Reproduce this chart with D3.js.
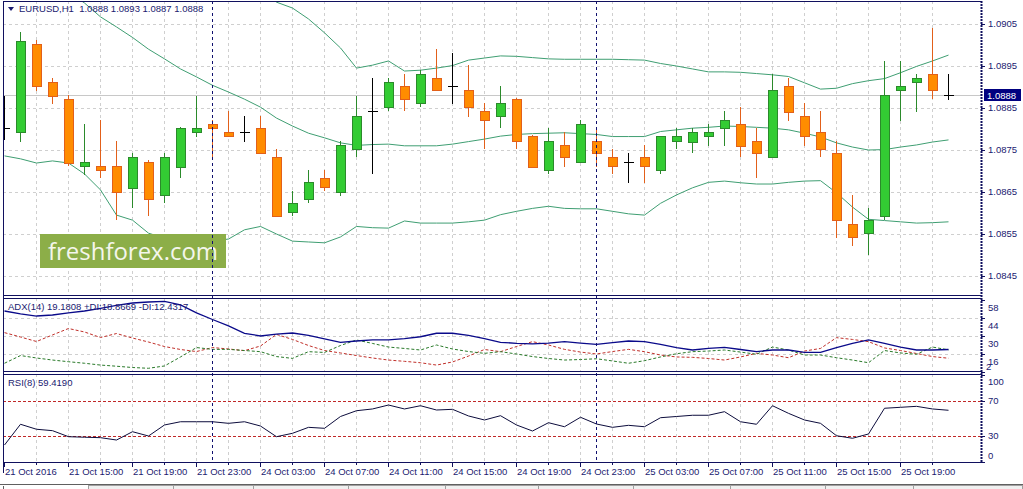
<!DOCTYPE html>
<html>
<head>
<meta charset="utf-8">
<script src="https://d3js.org/d3.v7.min.js"></script>
<style>
  body { margin: 0; background: #ffffff; }
  svg text { font-family: "Liberation Sans", Arial, sans-serif; font-size: 9.5px; fill: #1a1a70; }
  .grid line { stroke: #cfcfcf; stroke-dasharray: 3 3; shape-rendering: crispEdges; }
  .border { stroke: #10105e; stroke-width: 1; shape-rendering: crispEdges; fill: none; }
</style>
</head>
<body>
<div id="chart"></div>
<script>
// ---- data ----
const symbolTitle = "EURUSD,H1\u00a0\u00a01.0888 1.0893 1.0887 1.0888";
const adxTitle = "ADX(14) 19.1808 +DI:18.8669 -DI:12.4317";
const rsiTitle = "RSI(8) 59.4190";
const lastPrice = 1.0888;

const open = [1.08802,1.08793,1.09002,1.08912,1.08871,1.08712,1.08712,1.08712,1.08660,1.08721,
  1.08643,1.08710,1.08793,1.08812,1.08793,1.08793,1.08802,1.08733,1.08602,1.08633,
  1.08683,1.08650,1.08752,1.08843,1.08852,1.08902,1.08862,1.08921,1.08902,1.08893,
  1.08843,1.08831,1.08871,1.08783,1.08702,1.08762,1.08721,1.08771,1.08733,1.08721,
  1.08733,1.08702,1.08771,1.08769,1.08783,1.08802,1.08812,1.08771,1.08733,1.08902,
  1.08831,1.08793,1.08743,1.08574,1.08552,1.08593,1.08893,1.08912,1.08931,1.08880];
const high = [1.08879,1.09031,1.09012,1.08921,1.08881,1.08812,1.08821,1.08771,1.08743,1.08726,
  1.08743,1.08805,1.08879,1.08821,1.08843,1.08831,1.08831,1.08752,1.08652,1.08702,
  1.08702,1.08771,1.08879,1.08921,1.08921,1.08931,1.08940,1.08990,1.08981,1.08952,
  1.08862,1.08902,1.08873,1.08786,1.08802,1.08793,1.08821,1.08802,1.08752,1.08743,
  1.08762,1.08783,1.08802,1.08802,1.08812,1.08843,1.08852,1.08802,1.08931,1.08921,
  1.08862,1.08843,1.08771,1.08643,1.08612,1.08962,1.08962,1.08931,1.09040,1.08930];
const low = [1.08774,1.08769,1.08890,1.08860,1.08712,1.08690,1.08683,1.08583,1.08612,1.08593,
  1.08624,1.08683,1.08781,1.08733,1.08781,1.08769,1.08740,1.08590,1.08593,1.08624,
  1.08652,1.08640,1.08733,1.08693,1.08843,1.08843,1.08852,1.08890,1.08860,1.08829,
  1.08752,1.08802,1.08752,1.08708,1.08693,1.08710,1.08719,1.08710,1.08693,1.08671,
  1.08671,1.08693,1.08752,1.08743,1.08760,1.08760,1.08733,1.08683,1.08731,1.08819,
  1.08760,1.08733,1.08540,1.08521,1.08500,1.08583,1.08819,1.08840,1.08871,1.08870];
const close = [1.08802,1.09010,1.08902,1.08879,1.08719,1.08721,1.08702,1.08650,1.08733,1.08633,
  1.08733,1.08802,1.08802,1.08802,1.08783,1.08793,1.08743,1.08593,1.08624,1.08674,
  1.08662,1.08762,1.08831,1.08843,1.08912,1.08871,1.08931,1.08893,1.08902,1.08852,
  1.08821,1.08862,1.08771,1.08710,1.08771,1.08733,1.08812,1.08743,1.08712,1.08721,
  1.08712,1.08783,1.08783,1.08793,1.08793,1.08821,1.08760,1.08743,1.08893,1.08840,
  1.08783,1.08752,1.08583,1.08543,1.08583,1.08881,1.08902,1.08921,1.08893,1.08880];

const bbUpper = [1.09717,1.09676,1.09638,1.09581,1.09533,1.09507,1.09481,1.09490,1.09452,1.09429,
  1.09393,1.09352,1.09317,1.09274,1.09238,1.09183,1.09136,1.09102,1.09088,1.09062,
  1.09029,1.08993,1.08945,1.08952,1.08962,1.08938,1.08940,1.08945,1.08951,1.08964,
  1.08969,1.08974,1.08973,1.08970,1.08967,1.08966,1.08966,1.08966,1.08966,1.08965,
  1.08964,1.08956,1.08950,1.08943,1.08936,1.08936,1.08935,1.08932,1.08929,1.08925,
  1.08910,1.08895,1.08897,1.08908,1.08915,1.08920,1.08934,1.08949,1.08962,1.08976];
const bbMiddle = [1.09226,1.09202,1.09179,1.09152,1.09126,1.09100,1.09067,1.09043,1.09018,1.08990,
  1.08967,1.08943,1.08924,1.08904,1.08888,1.08871,1.08852,1.08826,1.08807,1.08790,
  1.08779,1.08767,1.08761,1.08763,1.08764,1.08760,1.08760,1.08760,1.08764,1.08770,
  1.08776,1.08783,1.08787,1.08789,1.08790,1.08791,1.08789,1.08787,1.08782,1.08782,
  1.08782,1.08794,1.08798,1.08802,1.08804,1.08807,1.08806,1.08804,1.08802,1.08798,
  1.08790,1.08781,1.08767,1.08757,1.08750,1.08751,1.08757,1.08762,1.08769,1.08774];
const bbLower = [1.08736,1.08729,1.08719,1.08724,1.08719,1.08693,1.08655,1.08595,1.08583,1.08552,
  1.08540,1.08533,1.08531,1.08533,1.08538,1.08560,1.08568,1.08550,1.08533,1.08531,
  1.08529,1.08543,1.08568,1.08565,1.08564,1.08581,1.08576,1.08576,1.08576,1.08579,
  1.08583,1.08596,1.08604,1.08611,1.08616,1.08611,1.08610,1.08610,1.08604,1.08598,
  1.08595,1.08623,1.08643,1.08660,1.08673,1.08676,1.08672,1.08669,1.08669,1.08673,
  1.08676,1.08677,1.08648,1.08614,1.08585,1.08582,1.08579,1.08576,1.08577,1.08579];

const adx = [49.1,46.8,45.2,46.0,47.6,49.1,51.2,53.4,55.3,56.1,
  56.5,53.8,47.6,42.5,37.5,31.8,29.7,31.2,32.0,30.1,
  27.4,24.8,25.8,26.6,26.6,27.7,29.1,31.8,31.8,30.1,
  27.7,24.8,24.0,23.5,24.2,25.3,24.2,23.2,24.6,25.8,
  25.3,23.1,20.7,18.8,20.0,20.9,19.2,17.6,18.8,18.8,
  17.0,17.0,20.7,23.9,26.6,23.9,21.1,18.8,18.8,19.2];
const plusDI = [8.5,14.5,12.6,11.0,9.7,8.5,7.1,6.2,5.2,4.6,
  6.4,13.4,20.7,19.3,19.3,18.4,17.5,13.7,12.3,17.5,
  16.9,22.3,26.6,23.9,21.1,20.0,18.8,22.7,19.6,17.6,
  16.2,17.5,15.7,13.7,12.2,11.0,11.4,12.0,10.3,8.5,
  10.5,13.4,15.9,17.5,18.0,18.8,17.2,15.5,21.1,18.8,
  14.9,14.9,12.8,11.0,8.9,18.4,16.5,15.5,21.1,18.9];
const minusDI = [32.3,28.9,25.4,30.5,35.5,32.8,28.5,31.6,28.1,25.0,
  21.5,19.2,17.6,20.7,19.6,18.3,21.9,30.9,27.0,22.3,
  18.4,16.5,14.5,12.6,11.0,10.0,8.9,7.1,9.5,14.1,
  19.2,17.5,21.5,25.3,22.7,19.3,17.2,15.7,17.6,19.3,
  17.5,14.9,13.4,13.1,12.2,11.0,13.4,16.2,14.9,12.8,
  18.0,20.0,28.4,27.0,25.3,20.4,18.4,16.1,13.7,12.4];
const rsi = [19.7,43.4,37.7,36.1,29.2,28.6,28.1,25.4,34.9,30.0,
  42.6,46.3,46.3,46.3,44.5,46.3,41.4,29.2,33.1,39.9,
  38.8,52.3,58.9,60.9,65.4,60.9,64.6,59.7,60.5,52.9,
  48.3,53.2,42.6,35.7,45.2,40.6,51.4,43.7,39.9,42.2,
  40.6,50.9,52.3,53.7,53.7,57.8,46.3,43.4,64.6,55.9,
  48.3,44.5,30.3,27.4,32.3,61.7,62.8,63.9,60.9,59.4];

const priceTicks = [1.0905, 1.0895, 1.0885, 1.0875, 1.0865, 1.0855, 1.0845];
const adxTicks = [58, 44, 30, 16, 2];
const rsiTicks = [100, 70, 30, 0];
const rsiLevels = [70, 30];
const timeTickBars = [0, 4, 8, 12, 16, 20, 24, 28, 32, 36, 40, 44, 48, 52, 56];
const timeTickLabels = ["21 Oct 2016", "21 Oct 15:00", "21 Oct 19:00", "21 Oct 23:00", "24 Oct 03:00",
  "24 Oct 07:00", "24 Oct 11:00", "24 Oct 15:00", "24 Oct 19:00", "24 Oct 23:00",
  "25 Oct 03:00", "25 Oct 07:00", "25 Oct 11:00", "25 Oct 15:00", "25 Oct 19:00"];
const daySeparatorBars = [13, 37];
const tabEdges = [88, 173, 253, 348, 445, 538, 633, 730, 825, 913];

// ---- layout ----
const W = 1023, H = 489;
const left = 3, right = 981;
const main = { top: 1, bottom: 295.5 };
const adxP = { top: 298, bottom: 371.5 };
const rsiP = { top: 374, bottom: 462 };

const svg = d3.select("#chart").append("svg").attr("width", W).attr("height", H);

const x = d3.scaleLinear().domain([0, 59]).range([4.5, 948.5]);
const y = d3.scaleLinear().domain([1.0845, 1.0905]).range([276, 24]);
const yAdx = d3.scaleLinear().domain([2.1, 59.2]).range([371.5, 298]);
const yRsi = d3.scaleLinear().domain([0, 100]).range([462.25, 374.75]);

// clip paths per panel
const defs = svg.append("defs");
[["clipMain", main], ["clipAdx", adxP], ["clipRsi", rsiP]].forEach(([id, p]) => {
  defs.append("clipPath").attr("id", id).append("rect")
    .attr("x", left + 1).attr("y", p.top + 1)
    .attr("width", right - left - 1).attr("height", p.bottom - p.top - 1);
});

// ---- grids ----
const gridBars = d3.range(2, 60, 2);
[main, adxP, rsiP].forEach(p => {
  svg.append("g").attr("class", "grid")
    .selectAll("line").data(gridBars).join("line")
    .attr("x1", d => Math.floor(x(d)) + 0.5).attr("x2", d => Math.floor(x(d)) + 0.5)
    .attr("y1", p.top).attr("y2", p.bottom);
});
svg.append("g").attr("class", "grid")
  .selectAll("line").data(priceTicks).join("line")
  .attr("x1", left).attr("x2", right)
  .attr("y1", d => Math.round(y(d)) + 0.5).attr("y2", d => Math.round(y(d)) + 0.5);
svg.append("g").attr("class", "grid")
  .selectAll("line").data(adxTicks.slice(1, 4)).join("line")
  .attr("x1", left).attr("x2", right)
  .attr("y1", d => Math.round(yAdx(d)) + 0.5).attr("y2", d => Math.round(yAdx(d)) + 0.5);

// current price line
svg.append("line")
  .attr("x1", left).attr("x2", right)
  .attr("y1", Math.round(y(lastPrice)) + 0.5).attr("y2", Math.round(y(lastPrice)) + 0.5)
  .attr("stroke", "#c8c8c8").attr("shape-rendering", "crispEdges");

// ---- main panel ----
const gMain = svg.append("g").attr("clip-path", "url(#clipMain)");

const bbLine = arr => d3.line().x((d, i) => x(i)).y(d => y(d))(arr);
[bbUpper, bbMiddle, bbLower].forEach(arr => {
  gMain.append("path").attr("d", bbLine(arr))
    .attr("fill", "none").attr("stroke", "#3f9e72").attr("stroke-width", 1);
});

const candles = gMain.append("g").attr("shape-rendering", "crispEdges");
open.forEach((o, i) => {
  const c = close[i];
  const cx = Math.floor(x(i)) + 0.5;
  const bull = c > o, doji = c === o;
  const edge = doji ? "#000000" : bull ? "#2b8a2b" : "#e2601a";
  const fill = bull ? "#33cc33" : "#ff8c00";
  candles.append("line")
    .attr("x1", cx).attr("x2", cx)
    .attr("y1", y(high[i])).attr("y2", y(low[i]))
    .attr("stroke", edge);
  if (doji) {
    candles.append("line")
      .attr("x1", cx - 5).attr("x2", cx + 5)
      .attr("y1", Math.round(y(o)) + 0.5).attr("y2", Math.round(y(o)) + 0.5)
      .attr("stroke", edge);
  } else {
    const top = Math.round(y(Math.max(o, c))) + 0.5;
    const bot = Math.round(y(Math.min(o, c))) + 0.5;
    candles.append("rect")
      .attr("x", cx - 4.5).attr("width", 9)
      .attr("y", top).attr("height", Math.max(1, bot - top))
      .attr("fill", fill).attr("stroke", edge);
  }
});

// watermark
svg.append("rect").attr("x", 40).attr("y", 234).attr("width", 186).attr("height", 34)
  .attr("fill", "#8cae48");
svg.append("text").attr("x", 133).attr("y", 260).attr("text-anchor", "middle")
  .attr("textLength", 170).attr("lengthAdjust", "spacingAndGlyphs")
  .style("font-family", "'Open Sans', sans-serif").style("font-size", "24px")
  .style("fill", "#f4f6ec").text("freshforex.com");

// ---- ADX panel ----
const gAdx = svg.append("g").attr("clip-path", "url(#clipAdx)");
const adxLine = d3.line().x((d, i) => x(i)).y(d => yAdx(d));
gAdx.append("path").attr("d", adxLine(minusDI)).attr("fill", "none")
  .attr("stroke", "#c0302a").attr("stroke-width", 1).attr("stroke-dasharray", "3 2");
gAdx.append("path").attr("d", adxLine(plusDI)).attr("fill", "none")
  .attr("stroke", "#2a7a2a").attr("stroke-width", 1).attr("stroke-dasharray", "3 2");
gAdx.append("path").attr("d", adxLine(adx)).attr("fill", "none")
  .attr("stroke", "#0a0a8a").attr("stroke-width", 1.3);

// ---- RSI panel ----
const gRsi = svg.append("g").attr("clip-path", "url(#clipRsi)");
gRsi.selectAll("line.level").data(rsiLevels).join("line")
  .attr("x1", left).attr("x2", right)
  .attr("y1", d => Math.round(yRsi(d)) + 0.5).attr("y2", d => Math.round(yRsi(d)) + 0.5)
  .attr("stroke", "#c02828").attr("stroke-dasharray", "3 2").attr("shape-rendering", "crispEdges");
gRsi.append("path").attr("d", d3.line().x((d, i) => x(i)).y(d => yRsi(d))(rsi))
  .attr("fill", "none").attr("stroke", "#0c0c3c").attr("stroke-width", 1);

// day separators
svg.append("g").selectAll("line").data(daySeparatorBars).join("line")
  .attr("x1", d => Math.floor(x(d)) + 0.5).attr("x2", d => Math.floor(x(d)) + 0.5)
  .attr("y1", main.top).attr("y2", rsiP.bottom)
  .attr("stroke", "#10106e").attr("stroke-dasharray", "3 3").attr("shape-rendering", "crispEdges");

// ---- borders ----
[main, adxP, rsiP].forEach(p => {
  svg.append("line").attr("class", "border").attr("x1", left).attr("x2", right)
    .attr("y1", p.top + 0.5).attr("y2", p.top + 0.5);
  svg.append("line").attr("class", "border").attr("x1", left).attr("x2", right)
    .attr("y1", Math.floor(p.bottom) + 0.5).attr("y2", Math.floor(p.bottom) + 0.5);
});
svg.append("line").attr("class", "border").attr("x1", left + 0.5).attr("x2", left + 0.5)
  .attr("y1", main.top).attr("y2", 473);
svg.append("line").attr("x1", right + 0.5).attr("x2", right + 0.5)
  .attr("y1", main.top).attr("y2", rsiP.bottom)
  .attr("stroke", "#10105e").attr("stroke-width", 2).attr("stroke-dasharray", "2 1");

// ---- right axes ----
const axisX = right + 2;
function rightTicks(values, scale, labelY) {
  const g = svg.append("g");
  g.selectAll("line").data(values).join("line")
    .attr("x1", right).attr("x2", axisX + 2)
    .attr("y1", d => Math.round(scale(d)) + 0.5).attr("y2", d => Math.round(scale(d)) + 0.5)
    .attr("stroke", "#10105e").attr("shape-rendering", "crispEdges");
  g.selectAll("text").data(values).join("text")
    .attr("x", axisX + 5).attr("y", labelY).attr("dy", "0.35em")
    .text(d => d);
  return g;
}
rightTicks(priceTicks, y, d => y(d)).selectAll("text").text(d => d.toFixed(4));
rightTicks(adxTicks, yAdx, d => Math.min(Math.max(yAdx(d) + 8, adxP.top + 7), adxP.bottom - 5))
  .selectAll("text").attr("x", d => d < 10 ? axisX + 3 : axisX + 5);
rightTicks(rsiTicks, yRsi, d => Math.min(Math.max(yRsi(d), rsiP.top + 7.5), rsiP.bottom - 6.5));

// last price marker
svg.append("rect").attr("x", 984).attr("y", Math.round(y(lastPrice)) - 6).attr("width", 37).attr("height", 12)
  .attr("fill", "#000080");
svg.append("text").attr("x", 987).attr("y", y(lastPrice)).attr("dy", "0.35em")
  .style("fill", "#ffffff").text(lastPrice.toFixed(4));

// ---- time axis ----
const gTime = svg.append("g").attr("shape-rendering", "crispEdges");
gTime.selectAll("line.minor").data(gridBars.filter(d => d % 4 !== 0)).join("line")
  .attr("x1", d => Math.floor(x(d)) + 0.5).attr("x2", d => Math.floor(x(d)) + 0.5)
  .attr("y1", rsiP.bottom).attr("y2", rsiP.bottom + 3)
  .attr("stroke", "#10105e");
gTime.selectAll("line.major").data(timeTickBars).join("line")
  .attr("x1", d => Math.floor(x(d)) + 0.5).attr("x2", d => Math.floor(x(d)) + 0.5)
  .attr("y1", rsiP.bottom).attr("y2", rsiP.bottom + 5)
  .attr("stroke", "#10105e");
gTime.selectAll("text").data(timeTickBars).join("text")
  .attr("x", d => Math.floor(x(d)) + 1).attr("y", 472).attr("dy", "0.35em")
  .text((d, i) => timeTickLabels[i]);

// ---- titles ----
svg.append("path").attr("d", "M8,7 L14,7 L11,11 Z").attr("fill", "#1a1a70");
svg.append("text").attr("x", 19).attr("y", 9).attr("dy", "0.35em").text(symbolTitle);
svg.append("text").attr("x", 8).attr("y", 307).attr("dy", "0.35em").text(adxTitle);
svg.append("text").attr("x", 8).attr("y", 383).attr("dy", "0.35em").text(rsiTitle);

// ---- bottom tab strip ----
svg.append("line").attr("x1", 0).attr("x2", W).attr("y1", 484.5).attr("y2", 484.5)
  .attr("stroke", "#606060");
svg.append("rect").attr("x", 88.5).attr("y", 485.5).attr("width", W - 89).attr("height", 6)
  .attr("fill", "#f0f0f0").attr("stroke", "#a0a0a0");
svg.append("g").selectAll("line").data(tabEdges.slice(1)).join("line")
  .attr("x1", d => d + 0.5).attr("x2", d => d + 0.5).attr("y1", 486).attr("y2", 489)
  .attr("stroke", "#a0a0a0");
svg.append("line").attr("x1", 3.5).attr("x2", 3.5).attr("y1", 486).attr("y2", 489)
  .attr("stroke", "#606060");
</script>
</body>
</html>
